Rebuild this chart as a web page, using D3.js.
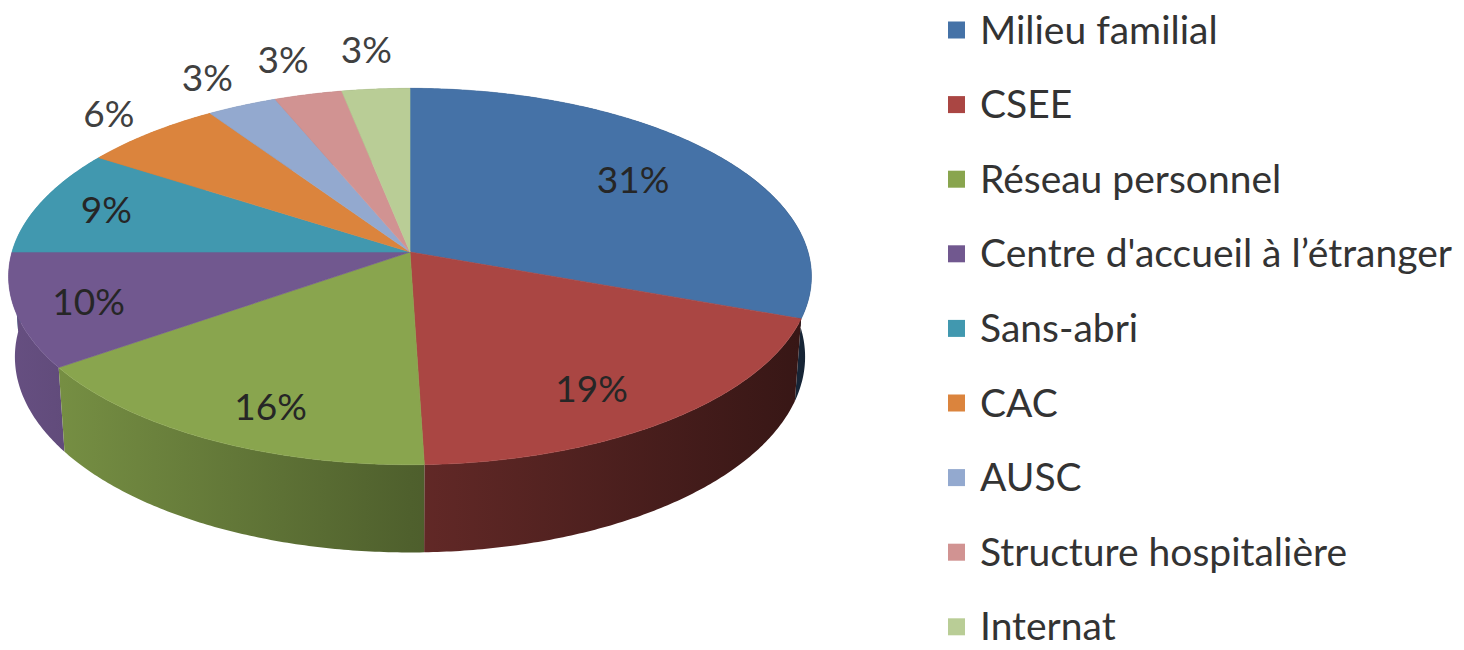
<!DOCTYPE html>
<html>
<head>
<meta charset="utf-8">
<script src="https://cdn.jsdelivr.net/npm/d3@7"></script>
<style>
  body { margin: 0; background: #fff; }
  svg text { font-family: Lato, "Open Sans", sans-serif; }
</style>
</head>
<body>
<script>
// categories and shares
var categories = ["Milieu familial", "CSEE", "Réseau personnel", "Centre d'accueil à l’étranger",
  "Sans-abri", "CAC", "AUSC", "Structure hospitalière", "Internat"];
var values = [30.6, 18.9, 15.7, 9.8, 9.2, 6.4, 3.2, 3.1, 3.1];
var colors = ["#4572A7", "#AA4643", "#89A54E", "#71588F", "#4198AF", "#DB843D", "#93A9CF", "#D19392", "#B9CD96"];

var width = 1464, height = 650;

//3d view of the pie
var cx = 410, cy = 252,
  tilt = 27.7 * Math.PI / 180,
  dist = 6.8,
  scale = 398 * dist,
  thick = 0.23;
var ct = Math.cos(tilt), st = Math.sin(tilt);

// x right, y up, z toward viewer (unit disc)
function proj(x, y, z) {
  var yp = y * ct - z * st, zp = y * st + z * ct;
  var depth = dist - zp;
  return [cx + scale * x / depth, cy - scale * yp / depth];
}
function rim(a, r, y) {
  return proj(r * Math.sin(a), y, -r * Math.cos(a));
}

var svg = d3.select("body").append("svg")
  .attr("width", width)
  .attr("height", height);

var colour = d3.scaleOrdinal().domain(categories).range(colors);
var pie = d3.pie().sort(null).value(function(d) { return d.value; });
var data = categories.map(function(c, i) { return {name: c, value: values[i]}; });
var arcs = pie(data);
var total = d3.sum(values);
var fmt = d3.format(".0%");
var line = d3.line();

function arcPoints(d, y) {
  var n = Math.max(4, Math.ceil((d.endAngle - d.startAngle) / 0.01));
  return d3.range(n + 1).map(function(i) {
    return rim(d.startAngle + (d.endAngle - d.startAngle) * i / n, 1, y);
  });
}

// side shading
var defs = svg.append("defs");
arcs.forEach(function(d, i) {
  var base = d3.rgb(colour(d.data.name));
  var g = defs.append("linearGradient")
    .attr("id", "side" + i)
    .attr("gradientUnits", "userSpaceOnUse")
    .attr("x1", cx - 400).attr("x2", cx + 400)
    .attr("y1", 0).attr("y2", 0);
  [[0, 0.9], [0.5, 0.58], [1, 0.32]].forEach(function(s) {
    g.append("stop").attr("offset", s[0])
      .attr("stop-color", d3.rgb(base.r * s[1], base.g * s[1], base.b * s[1]));
  });
});

//walls, far ones first
var walls = arcs.slice().sort(function(a, b) {
  var za = -Math.cos((a.startAngle + a.endAngle) / 2), zb = -Math.cos((b.startAngle + b.endAngle) / 2);
  return za - zb;
});
svg.append("g").selectAll("path")
  .data(walls)
  .enter().append("path")
  .attr("d", function(d) {
    var top = arcPoints(d, 0), bot = arcPoints(d, -thick).reverse();
    return line(top.concat(bot)) + "Z";
  })
  .attr("fill", function(d) { return "url(#side" + d.index + ")"; });

//top faces
svg.append("g").selectAll("path")
  .data(arcs)
  .enter().append("path")
  .attr("d", function(d) {
    return line([proj(0, 0, 0)].concat(arcPoints(d, 0))) + "Z";
  })
  .attr("fill", function(d) { return colour(d.data.name); })
  .attr("stroke", function(d) { return colour(d.data.name); })
  .attr("stroke-width", 0.6);

// data labels
svg.append("g").selectAll("text")
  .data(arcs)
  .enter().append("text")
  .attr("text-anchor", "middle")
  .attr("dy", "0.35em")
  .style("font-size", "37px")
  .attr("fill", function(d) { return d.value / total < 0.08 ? "#404040" : "#262626"; })
  .attr("transform", function(d) {
    var a = (d.startAngle + d.endAngle) / 2, share = d.value / total, p;
    if (share < 0.08) {
      //outside: box touching the rim
      var e = rim(a, 1, 0), o = proj(0, 0, 0);
      var dx = e[0] - o[0], dy = e[1] - o[1], len = Math.sqrt(dx * dx + dy * dy);
      var ux = dx / len, uy = dy / len;
      p = [e[0] + ux * 20 + ux * 26, e[1] + uy * 20 + uy * 16 - 4];
    } else {
      var r = share > 0.12 ? 0.72 : 0.82;
      p = rim(a, r, 0);
      var z = -Math.cos(a);
      if (z > 0) p[1] += 0.35 * 87 * z * z;
    }
    return "translate(" + p[0] + "," + p[1] + ")";
  })
  .text(function(d) { return fmt(d.value / total); });

//legend
var legend = svg.append("g")
  .selectAll("g")
  .data(categories)
  .enter().append("g")
  .attr("transform", function(d, i) { return "translate(948," + (30 + i * 74.6) + ")"; });

legend.append("rect")
  .attr("y", -8.5)
  .attr("width", 17)
  .attr("height", 17)
  .attr("fill", colour);

legend.append("text")
  .attr("x", 32)
  .attr("dy", "0.35em")
  .style("font-size", "39px")
  .attr("fill", "#333")
  .text(function(d) { return d; });
</script>
</body>
</html>
